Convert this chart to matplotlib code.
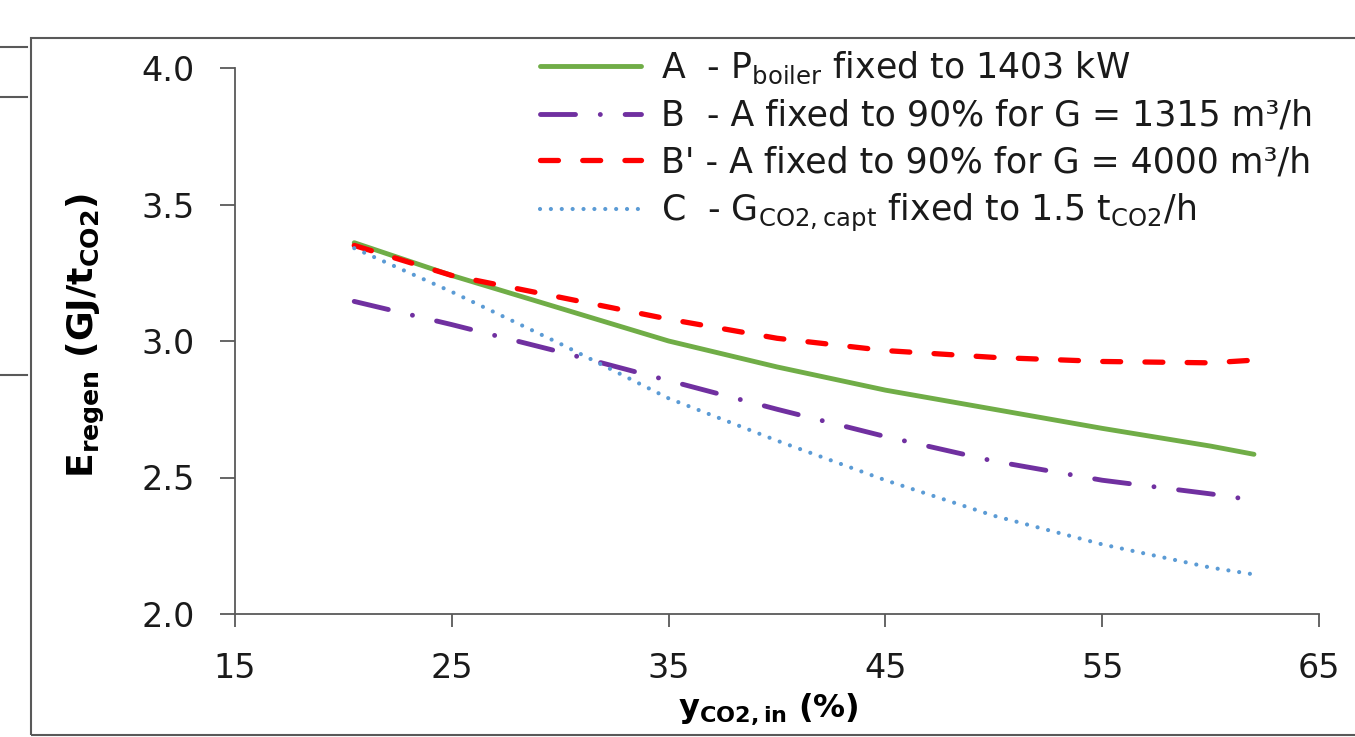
import matplotlib
matplotlib.use("Agg")
import matplotlib.pyplot as plt
from matplotlib.patches import Rectangle
from matplotlib.lines import Line2D

plt.rcParams['font.family'] = 'DejaVu Sans'
plt.rcParams['mathtext.fontset'] = 'dejavusans'

# CO2 inlet fraction (%)
x_vals = [20.5, 25, 30, 35, 40, 45, 50, 55, 60, 62]
x_b = [20.5, 25, 30, 35, 40, 45, 50, 55, 60, 61.3]

# regeneration energy (GJ/tCO2)
e_a = [3.36, 3.24, 3.12, 3.00, 2.905, 2.82, 2.75, 2.68, 2.615, 2.585]
e_b = [3.145, 3.06, 2.96, 2.855, 2.75, 2.65, 2.56, 2.49, 2.44, 2.425]
e_b2 = [3.35, 3.24, 3.16, 3.08, 3.01, 2.965, 2.94, 2.925, 2.92, 2.93]
e_c = [3.34, 3.18, 2.99, 2.79, 2.635, 2.49, 2.36, 2.255, 2.17, 2.145]

labels = [
    r'A  - P$_{\mathrm{boiler}}$ fixed to 1403 kW',
    'B  - A fixed to 90% for G = 1315 m³/h',
    "B' - A fixed to 90% for G = 4000 m³/h",
    r'C  - G$_{\mathrm{CO2,capt}}$ fixed to 1.5 t$_{\mathrm{CO2}}$/h',
]

fig = plt.figure(figsize=(13.55, 7.37), dpi=100)
ax = fig.add_axes([235/1355, 1-614/737, 1084/1355, 546/737])

ax.plot(x_vals, e_a, color='#70AD47', lw=3.5, solid_capstyle='round', label=labels[0])
ax.plot(x_b, e_b, color='#7030A0', lw=3.5, linestyle=(0, (7.2, 5.1, 0.01, 5.1)),
        dash_capstyle='round', label=labels[1])
ax.plot(x_vals, e_b2, color='#FF0000', lw=3.8, linestyle=(0, (3.4, 4.6)),
        dash_capstyle='round', label=labels[2])
ax.plot(x_vals, e_c, color='#5B9BD5', lw=3.0, linestyle=(0, (0.01, 2.6)),
        dash_capstyle='round', label=labels[3])

ax.set_xlim(15, 65)
ax.set_ylim(2.0, 4.0)
ax.set_xticks([15, 25, 35, 45, 55, 65])
ax.set_yticks([2.0, 2.5, 3.0, 3.5, 4.0])
ax.set_yticklabels(['2.0', '2.5', '3.0', '3.5', '4.0'])
for s in ['top', 'right']:
    ax.spines[s].set_visible(False)
for s in ['left', 'bottom']:
    ax.spines[s].set_color('#595959')
    ax.spines[s].set_linewidth(1.3)
ax.tick_params(axis='both', direction='out', color='#595959', width=1.3,
               labelsize=24, labelcolor='#1a1a1a')
ax.tick_params(axis='y', length=11, pad=18)
ax.tick_params(axis='x', length=9, pad=18)

ax.set_ylabel(r'$\mathbf{E_{regen}\ (GJ/t_{CO2})}$', fontsize=26)
ax.yaxis.set_label_coords(-0.118, 0.51)
ax.set_xlabel(r'$\mathbf{y_{CO2,in}\ (\%)}$', fontsize=23)
ax.xaxis.set_label_coords(0.492, -0.142)

leg = ax.legend(loc='upper left', bbox_to_anchor=(540/1355, 1-50/737),
                bbox_transform=fig.transFigure, frameon=False,
                prop={'size': 25}, handlelength=2.9,
                handletextpad=0.58, labelspacing=0.36, borderpad=0,
                borderaxespad=0)
for t in leg.get_texts():
    t.set_color('#1a1a1a')

# outer frame of the chart area
fig.add_artist(Rectangle((31/1355, 2/737), 1.0, 1-40/737, transform=fig.transFigure,
                         fill=False, edgecolor='#595959', lw=1.5))
for yy in [47, 97, 375]:
    fig.add_artist(Line2D([0, 27/1355], [1-yy/737, 1-yy/737], transform=fig.transFigure,
                          color='#595959', lw=1.5))

fig.savefig('out.png', dpi=100)
